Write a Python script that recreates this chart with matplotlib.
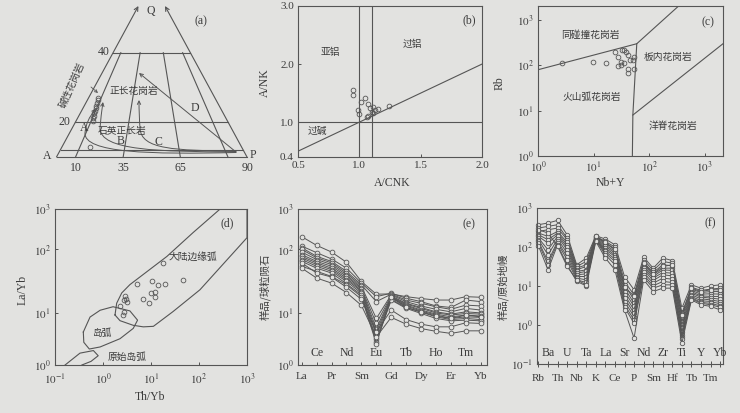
import numpy as np
import matplotlib
matplotlib.use('Agg')
import matplotlib.pyplot as plt
from matplotlib.path import Path
from matplotlib.patches import FancyArrowPatch
from matplotlib.ticker import NullLocator
from matplotlib.transforms import blended_transform_factory

plt.rcParams['font.family'] = ['Liberation Serif', 'Noto Sans CJK SC']
plt.rcParams['mathtext.fontset'] = 'stix'

BG = '#e2e2e0'
INK = '#3c3c3c'
LINE = '#555555'
CJK = ['Noto Sans CJK SC', 'DejaVu Sans']

# ---------------- data ----------------
# (a) QAP: P% along base (A->P) and Q level
qap_p = [7.7, 8.0, 8.3, 8.8, 9.1, 9.7, 9.8, 10.5, 10.6, 11.0, 15.6]
qap_q = [27.0, 26.4, 25.5, 24.7, 24.1, 23.2, 22.6, 21.8, 21.2, 20.4, 6.4]

# (b) A/CNK - A/NK
acnk = [0.95, 0.95, 1.01, 1.05, 0.99, 1.00, 1.07, 1.09, 1.07, 1.11, 1.13, 1.15, 1.11, 1.24, 1.10, 1.06]
ank = [1.55, 1.47, 1.35, 1.41, 1.21, 1.14, 1.31, 1.24, 1.11, 1.15, 1.21, 1.22, 1.26, 1.28, 1.18, 1.09]

# (c) Nb+Y - Rb
nby = [2.7, 9.7, 17, 24.5, 27, 27.9, 31, 35.5, 36, 38, 41, 42, 45.5, 50.7, 54, 53.5, 41, 33, 31]
rb = [115, 118, 110, 200, 152, 96, 100, 110, 222, 200, 166, 85, 134, 134, 152, 85, 67, 222, 118]

# (d) Th/Yb - La/Yb
thyb = [17.4, 5.0, 10.7, 14.1, 19.5, 45.7, 10.2, 12.0, 12.0, 9.2, 6.8, 2.9, 2.95, 2.7, 3.2, 2.24, 2.75, 2.57]
layb = [61.7, 28.8, 31.6, 28.2, 28.8, 33.9, 20.9, 21.9, 17.8, 14.8, 16.6, 18.6, 16.6, 16.2, 15.1, 13.2, 10.7, 9.3]

# (e) REE chondrite normalised
REE = ['La', 'Ce', 'Pr', 'Nd', 'Sm', 'Eu', 'Gd', 'Tb', 'Dy', 'Ho', 'Er', 'Tm', 'Yb']
ree_s1 = [207, 126, 91, 63, 31.6, 20, 20.2, 18.3, 17.1, 16.2, 16.2, 18.3, 17.9]
ree_s2 = [121, 89, 71, 51, 29.8, 18.3, 20.7, 17.3, 15.3, 13.1, 12.4, 16.2, 15.3]
ree_s3 = [110, 78, 65, 45.5, 28, 15.3, 20, 16.2, 14.4, 12.7, 11.6, 13.5, 13.1]
ree_s4 = [100, 74, 61.6, 42.8, 26.4, 8.0, 19.5, 15.3, 13.1, 11.6, 10.6, 12, 11.3]
ree_s5 = [91, 69.5, 58, 40.3, 24.8, 6.4, 18.8, 14.4, 12.4, 10.6, 9.7, 10.6, 10.2]
ree_s6 = [83, 65, 54.5, 37.9, 23.9, 5.1, 18.3, 14, 12, 10.2, 9.3, 10, 9.7]
ree_s7 = [78, 61.6, 51, 35.7, 22.8, 4.4, 17.9, 13.5, 11.3, 9.7, 8.6, 9.3, 8.9]
ree_s8 = [74, 58, 48.3, 33.6, 22, 3.8, 17.3, 13.1, 10.9, 9.3, 8.0, 8.6, 8.4]
ree_s9 = [69.5, 54.5, 45.5, 31.6, 20.7, 3.2, 16.6, 12.4, 10.5, 8.6, 7.6, 8.0, 7.6]
ree_s10 = [65, 51, 42.8, 29, 19.5, 2.8, 16.2, 12, 10, 8.0, 7.2, 7.4, 7.2]
ree_s11 = [54.5, 45.5, 37.9, 28, 18.3, 2.6, 18.3, 12.4, 10.6, 8.9, 8, 9.3, 8.6]
ree_s12 = [61.6, 42.8, 37, 25.7, 16.6, 4.4, 11.3, 7.6, 6.2, 5.5, 5.5, 6.6, 6.4]
ree_s13 = [51, 35.7, 29.8, 21.2, 13.4, 3.5, 8.4, 6.2, 5.1, 4.5, 4.1, 4.6, 4.6]
ree_series = [ree_s1, ree_s2, ree_s3, ree_s4, ree_s5, ree_s6, ree_s7, ree_s8,
              ree_s9, ree_s10, ree_s11, ree_s12, ree_s13]

# (f) trace elements primitive mantle normalised
TRACE = ['Rb', 'Ba', 'Th', 'U', 'Nb', 'Ta', 'K', 'La', 'Ce', 'Sr', 'P', 'Nd', 'Sm',
         'Zr', 'Hf', 'Ti', 'Tb', 'Y', 'Tm', 'Yb']
tr_f1 = [373, 412, 482, 206, 35, 52, 195, 160, 114, 17.5, 8.0, 55, 28.7, 52, 45, 2.7, 10.7, 8.8, 10.1, 10.7]
tr_f2 = [306, 338, 373, 169, 31.7, 42.6, 187, 139, 99.5, 13.1, 5.9, 47, 25, 42.6, 38.6, 2.0, 9.3, 7.7, 8.3, 8.8]
tr_f3 = [251, 277, 306, 154, 28.7, 35, 180, 126, 85, 10.7, 4.4, 40.2, 22.2, 35, 33, 1.49, 8.3, 6.8, 7.2, 7.2]
tr_f4 = [228, 187, 251, 131, 26, 31.7, 176, 114, 77, 8.8, 3.6, 35, 19.4, 28.7, 28.7, 1.22, 7.7, 6.2, 6.3, 6.2]
tr_f5 = [206, 154, 228, 114, 23.6, 26, 169, 104, 70, 7.2, 3.0, 31.7, 17.5, 26, 25, 1.0, 7.1, 5.6, 5.4, 5.4]
tr_f6 = [187, 126, 206, 99.5, 21.4, 23.6, 166, 94, 63, 5.9, 2.44, 28.7, 15.9, 22.2, 21.4, 0.83, 6.5, 5.2, 4.9, 4.6]
tr_f7 = [169, 85, 187, 85, 19.4, 20.5, 160, 85, 57, 4.9, 2.0, 26, 13.8, 19.4, 18.2, 0.68, 5.9, 4.7, 4.4, 4.0]
tr_f8 = [154, 63, 160, 70, 17.5, 17.5, 157, 77, 49, 4.0, 1.64, 22.2, 11.8, 15.9, 15, 0.56, 5.4, 4.2, 4.0, 3.5]
tr_f9 = [139, 42.6, 139, 57, 15.9, 14.4, 154, 70, 42.6, 3.3, 1.35, 19.4, 10.1, 13.1, 12.3, 0.50, 5.0, 3.8, 3.6, 3.1]
tr_f10 = [126, 35, 126, 47, 14.4, 12.3, 148, 63, 35, 2.86, 1.11, 16.9, 8.8, 10.7, 10.7, 0.43, 4.7, 3.6, 3.3, 2.86]
tr_f11 = [108, 26, 114, 35, 13.1, 10.1, 139, 52, 26, 2.44, 0.46, 14.4, 7.2, 8.8, 8.8, 0.34, 4.4, 3.3, 3.0, 2.44]
tr_f12 = [277, 228, 104, 31.7, 14.4, 10.7, 187, 131, 88.5, 9.7, 5.4, 38.6, 20.5, 31.7, 35, 1.82, 8.8, 7.2, 8.0, 8.0]
trace_series = [tr_f1, tr_f2, tr_f3, tr_f4, tr_f5, tr_f6, tr_f7, tr_f8, tr_f9,
                tr_f10, tr_f11, tr_f12]

# ---------------- helpers ----------------
W, H = 740, 413
fig = plt.figure(figsize=(W / 100, H / 100), dpi=100, facecolor=BG)


def px_axes(l, t, r, b):
    ax = fig.add_axes([l / W, 1 - b / H, (r - l) / W, (b - t) / H])
    ax.set_facecolor('none')
    for s in ax.spines.values():
        s.set_color(LINE)
        s.set_linewidth(0.8)
    ax.tick_params(colors=INK, labelsize=8, direction='in', length=2.5, width=0.6, pad=3)
    return ax


def pw(x, xs, ys):
    x = np.asarray(x, float)
    y = np.interp(x, xs, ys)
    y = np.where(x < xs[0], ys[0] + (x - xs[0]) * (ys[1] - ys[0]) / (xs[1] - xs[0]), y)
    y = np.where(x > xs[-1], ys[-1] + (x - xs[-1]) * (ys[-1] - ys[-2]) / (xs[-1] - xs[-2]), y)
    return y


# non-uniform log axis of the original (d, e)
AX_LOG = [0, 1, 2, 3]
AX_POS = [0, 153, 343, 463]


def fwd(v):
    return pw(np.log10(np.clip(np.asarray(v, float), 1e-300, None)), AX_LOG, AX_POS)


def inv(u):
    return 10 ** pw(u, AX_POS, AX_LOG)


def ftext(x, y, s, **kw):
    kw.setdefault('color', INK)
    kw.setdefault('ha', 'center')
    kw.setdefault('va', 'center')
    fig.text(x / W, 1 - y / H, s, **kw)


pow_lab = {0.1: '$10^{-1}$', 1: '$10^{0}$', 10: '$10^{1}$', 100: '$10^{2}$', 1000: '$10^{3}$'}
mk = dict(marker='o', ms=3.4, mfc='none', mec=LINE, mew=0.6, ls='none')

# ---------------- (a) QAP ----------------
axa = fig.add_axes([0, 1 - 175 / H, 262 / W, 175 / H])
axa.set_xlim(0, 262)
axa.set_ylim(175, 0)
axa.axis('off')
BASE_L, BASE_R, BASE_Y = 56.5, 247.0, 157.0
APEX_X, APEX_Y = 151.7, -18.5
Q_LEVELS = [0, 5, 20, 40]
Q_PIX = [157.0, 149.5, 122.3, 52.7]


def qap_xy(p, q):
    y = pw(q, Q_LEVELS, Q_PIX)
    bx = BASE_L + (BASE_R - BASE_L) * np.asarray(p, float) / 100
    t = (BASE_Y - y) / (BASE_Y - APEX_Y)
    return bx + (APEX_X - bx) * t, y


def edge_x(p, y):
    bx = BASE_L + (BASE_R - BASE_L) * p / 100
    t = (BASE_Y - y) / (BASE_Y - APEX_Y)
    return bx + (APEX_X - bx) * t


lk = dict(color=LINE, lw=0.8)
for p in (0, 100):
    axa.add_patch(FancyArrowPatch((edge_x(p, BASE_Y), BASE_Y), (edge_x(p, 6), 6),
                                  arrowstyle='->', mutation_scale=7, color=LINE, lw=0.8,
                                  shrinkA=0, shrinkB=0))
for q in Q_LEVELS:
    y = float(pw(q, Q_LEVELS, Q_PIX))
    axa.plot([edge_x(0, y), edge_x(100, y)], [y, y], **lk)
for p in (10, 35, 65, 90):
    axa.plot([edge_x(p, BASE_Y), edge_x(p, Q_PIX[-1])], [BASE_Y, Q_PIX[-1]], **lk)

curves = [
    [(236, 152.5), (150, 154.5), (84, 153), (85, 133), (86, 120), (96, 109)],
    [(236, 152), (160, 151.5), (100, 151), (100, 128), (101, 115), (103, 102)],
    [(236, 151.5), (175, 150), (141, 150), (140, 128), (139, 115), (139, 100)],
]
codes = [Path.MOVETO, Path.CURVE4, Path.CURVE4, Path.CURVE4, Path.CURVE3, Path.CURVE3]
for c in curves:
    axa.add_patch(FancyArrowPatch(path=Path(c, codes), arrowstyle='->', mutation_scale=6,
                                  color=LINE, lw=0.7))
axa.add_patch(FancyArrowPatch((236, 152), (139, 73), arrowstyle='->', mutation_scale=6,
                              color=LINE, lw=0.7, shrinkA=0, shrinkB=0))
axa.add_patch(FancyArrowPatch((91, 87), (98, 93), arrowstyle='->', mutation_scale=5,
                              color=LINE, lw=0.6, shrinkA=0, shrinkB=0))
qx, qy = qap_xy(qap_p, qap_q)
axa.plot(qx, qy, **mk)

tk = dict(color=INK, ha='center', va='center', fontsize=8.5)
axa.text(151, 11, 'Q', **tk)
axa.text(201, 21, '(a)', **tk)
axa.text(104, 52, '40', **tk)
axa.text(64, 122, '20', **tk)
axa.text(47, 156, 'A', **tk)
axa.text(253, 155, 'P', **tk)
for p, s in zip((10, 35, 65, 90), ('10', '35', '65', '90')):
    axa.text(edge_x(p, BASE_Y) if p < 90 else 248, 168, s, **tk)
axa.text(84, 128, 'A', **tk)
axa.text(121, 141, 'B', **tk)
axa.text(158, 142, 'C', **tk)
axa.text(195, 108, 'D', **tk)
ck = dict(color=INK, ha='center', va='center', fontsize=7, family=CJK)
axa.text(72, 85, '碱性花岗岩', rotation=66, **ck)
axa.text(134, 91, '正长花岗岩', **ck)
axa.text(122, 131, '石英正长岩', **ck)

# ---------------- (b) ----------------
axb = px_axes(298, 6, 482, 157)
axb.set_xlim(0.5, 2.0)
axb.set_ylim(0.4, 3.0)
for v in (1.0, 1.1):
    axb.axvline(v, **lk)
axb.axhline(1.0, **lk)
axb.plot([0.5, 2.0], [0.5, 2.0], **lk)
axb.plot(acnk, ank, **mk)
axb.set_xticks([0.5, 1.0, 1.5, 2.0])
axb.set_xticklabels(['0.5', '1.0', '1.5', '2.0'])
axb.set_yticks([0.4, 1.0, 2.0, 3.0])
axb.set_yticklabels(['0.4', '1.0', '2.0', '3.0'])
axb.text(0.76, 2.2, '亚铝', **ck)
axb.text(1.43, 2.35, '过铝', **ck)
axb.text(0.66, 0.85, '过碱', **ck)
axb.text(1.9, 2.75, '(b)', **tk)
ftext(265, 83, 'A/NK', rotation=90, fontsize=8.5)
ftext(392, 183, 'A/CNK', fontsize=8.5)

# ---------------- (c) ----------------
axc = px_axes(538, 6, 723, 156)
axc.set_xscale('log')
axc.set_yscale('log')
axc.set_xlim(1, 2140)
axc.set_ylim(1, 2040)
axc.plot([1, 60, 340], [80, 300, 2040], **lk)
axc.plot([60, 51, 50], [300, 8, 1], **lk)
axc.plot([51, 2140], [8, 300], **lk)
axc.plot(nby, rb, **mk)
for a in (axc.xaxis, axc.yaxis):
    a.set_minor_locator(NullLocator())
axc.set_xticks([1, 10, 100, 1000])
axc.set_xticklabels([pow_lab[v] for v in (1, 10, 100, 1000)])
axc.set_yticks([1, 10, 100, 1000])
axc.set_yticklabels([pow_lab[v] for v in (1, 10, 100, 1000)])
axc.text(8.9, 466, '同碰撞花岗岩', **ck)
axc.text(222, 153, '板内花岗岩', **ck)
axc.text(9.2, 20.4, '火山弧花岗岩', **ck)
axc.text(274, 4.6, '洋脊花岗岩', **ck)
axc.text(1150, 900, '(c)', **tk)
ftext(500, 83, 'Rb', rotation=90, fontsize=8.5)
ftext(610, 183, 'Nb+Y', fontsize=8.5)

# ---------------- (d) ----------------
axd = px_axes(55, 209, 247, 365)
axd.set_xscale('log')
axd.set_yscale('function', functions=(fwd, inv))
axd.set_xlim(0.1, 1000)
axd.set_ylim(1, 1000)
cma_log = [(0.25, 0.97), (0.285, 1.16), (0.39, 1.32), (0.56, 1.45), (0.84, 1.61), (1.33, 1.89),
           (1.88, 2.42), (2.44, 3.0), (3.0, 3.0), (3.0, 2.29), (2.02, 1.37), (1.46, 1.03),
           (1.05, 0.75), (0.84, 0.74), (0.63, 0.77), (0.354, 0.86), (0.25, 0.97)]
ia_log = [(-0.41, 0.64), (-0.27, 0.93), (-0.06, 1.05), (0.21, 1.105), (0.56, 1.04), (0.72, 0.87),
          (0.63, 0.71), (0.354, 0.51), (-0.06, 0.35), (-0.285, 0.31), (-0.40, 0.44), (-0.41, 0.64)]
pia_log = [(-0.79, 0.0), (-0.48, 0.23), (-0.2, 0.28), (-0.1, 0.18), (-0.25, 0.07), (-0.44, 0.0)]
for shape, closed in ((cma_log, False), (ia_log, False), (pia_log, False)):
    lx, ly = zip(*shape)
    # skip the segment along the frame for the big field
    axd.plot(10 ** np.array(lx), 10 ** np.array(ly), color=LINE, lw=0.8)
axd.plot(thyb, layb, **mk)
axd.xaxis.set_minor_locator(NullLocator())
axd.yaxis.set_minor_locator(NullLocator())
axd.set_xticks([0.1, 1, 10, 100, 1000])
axd.set_xticklabels([pow_lab[v] for v in (0.1, 1, 10, 100, 1000)])
axd.set_yticks([1, 10, 100, 1000])
axd.set_yticklabels([pow_lab[v] for v in (1, 10, 100, 1000)])
axd.tick_params(axis='x', pad=5)
axd.text(76, 78, '大陆边缘弧', **ck)
axd.text(1.0, 4.1, '岛弧', **ck)
axd.text(3.2, 1.46, '原始岛弧', **ck)
axd.text(380, 447, '(d)', **tk)
ftext(23, 290, 'La/Yb', rotation=90, fontsize=8.5)
ftext(150, 397, 'Th/Yb', fontsize=8.5)

# ---------------- (e) ----------------
axe = px_axes(298, 209, 487, 365)
axe.set_yscale('function', functions=(fwd, inv))
axe.set_ylim(1, 1000)
xe = np.arange(len(REE))
for s in ree_series:
    axe.plot(xe, s, color=LINE, lw=0.7, marker='o', ms=3.4, mfc=BG, mec=LINE, mew=0.6)
axe.set_xlim(-0.25, 12.42)
axe.set_xticks(xe)
axe.set_xticklabels([lab if i % 2 == 0 else '' for i, lab in enumerate(REE)])
axe.tick_params(axis='x', pad=5)
axe.yaxis.set_minor_locator(NullLocator())
axe.set_yticks([1, 10, 100, 1000])
axe.set_yticklabels([pow_lab[v] for v in (1, 10, 100, 1000)])
tre = blended_transform_factory(axe.transData, axe.transAxes)
for i, lab in enumerate(REE):
    if i % 2 == 1:
        axe.text(i, 0.08, lab, transform=tre, **tk)
axe.text(11.2, 0.9, '(e)', transform=tre, **tk)
ftext(265, 287, '样品/球粒陨石', rotation=90, fontsize=7.5, family=CJK)

# ---------------- (f) ----------------
axf = px_axes(537, 208, 723, 364)
axf.set_yscale('log')
axf.set_ylim(0.1, 1000)
xf = np.arange(len(TRACE))
for s in trace_series:
    axf.plot(xf, s, color=LINE, lw=0.7, marker='o', ms=3.2, mfc=BG, mec=LINE, mew=0.6,
             clip_on=False)
axf.set_xlim(-0.15, 19.3)
axf.set_xticks(xf)
axf.set_xticklabels([lab if i % 2 == 0 else '' for i, lab in enumerate(TRACE)])
axf.tick_params(axis='x', direction='inout', length=4, pad=5)
axf.yaxis.set_minor_locator(NullLocator())
axf.set_yticks([0.1, 1, 10, 100, 1000])
axf.set_yticklabels([pow_lab[v] for v in (0.1, 1, 10, 100, 1000)])
trf = blended_transform_factory(axf.transData, axf.transAxes)
for i, lab in enumerate(TRACE):
    if i % 2 == 1:
        axf.text(i, 0.07, lab, transform=trf, **tk)
axf.text(18.0, 0.9, '(f)', transform=trf, **tk)
ftext(503, 287, '样品/原始地幔', rotation=90, fontsize=7.5, family=CJK)

fig.savefig('out.png', dpi=100, facecolor=BG)
